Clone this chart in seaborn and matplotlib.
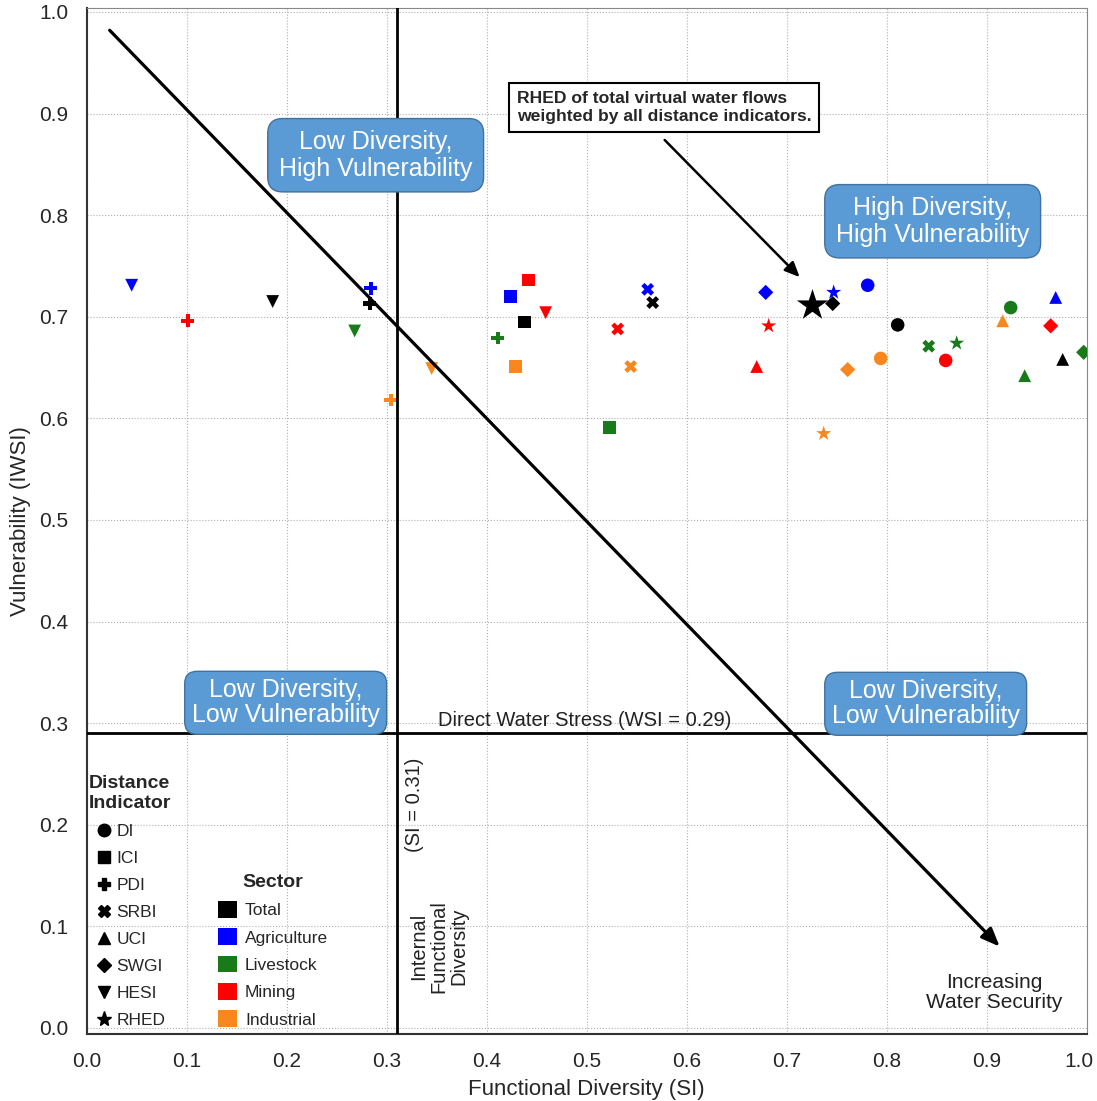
import numpy as np
import pandas as pd
import seaborn as sns
import matplotlib.pyplot as plt
import matplotlib.transforms as mtransforms
from matplotlib.lines import Line2D
from matplotlib.patches import Patch

# distance indicators and sectors
indicators = ['DI', 'ICI', 'PDI', 'SRBI', 'UCI', 'SWGI', 'HESI', 'RHED']
sectors = ['Total', 'Agriculture', 'Livestock', 'Mining', 'Industrial']

# functional diversity (SI) and vulnerability (IWSI), one value per indicator
total_si = [0.811, 0.438, 0.283, 0.566, 0.976, 0.746, 0.186, 0.725]
total_wsi = [0.692, 0.695, 0.713, 0.714, 0.658, 0.713, 0.715, 0.712]
agri_si = [0.781, 0.424, 0.284, 0.561, 0.969, 0.679, 0.045, 0.747]
agri_wsi = [0.731, 0.720, 0.728, 0.727, 0.719, 0.724, 0.731, 0.724]
live_si = [0.924, 0.523, 0.411, 0.842, 0.938, 0.997, 0.268, 0.870]
live_wsi = [0.709, 0.591, 0.679, 0.671, 0.642, 0.665, 0.686, 0.674]
mining_si = [0.859, 0.442, 0.101, 0.531, 0.670, 0.964, 0.459, 0.682]
mining_wsi = [0.657, 0.736, 0.696, 0.688, 0.651, 0.691, 0.704, 0.691]
indus_si = [0.794, 0.429, 0.304, 0.544, 0.916, 0.761, 0.345, 0.737]
indus_wsi = [0.659, 0.651, 0.618, 0.651, 0.696, 0.648, 0.649, 0.585]

# reference thresholds
si_internal = 0.31
wsi_direct = 0.29

ticks = [0.0, 0.1, 0.2, 0.3, 0.4, 0.5, 0.6, 0.7, 0.8, 0.9, 1.0]

palette = {'Total': '#000000', 'Agriculture': '#0000ff', 'Livestock': '#187a18',
           'Mining': '#ff0000', 'Industrial': '#f8871e'}
marker_map = {'DI': 'o', 'ICI': 's', 'PDI': 'P', 'SRBI': 'X', 'UCI': '^',
              'SWGI': 'D', 'HESI': 'v', 'RHED': '*'}
size_map = {'DI': 95, 'ICI': 80, 'PDI': 85, 'SRBI': 85, 'UCI': 85,
            'SWGI': 60, 'HESI': 85, 'RHED': 130}
legend_ms = {'DI': 9, 'ICI': 8.5, 'PDI': 9, 'SRBI': 9, 'UCI': 8.5,
             'SWGI': 7.5, 'HESI': 8.5, 'RHED': 11}

rows = []
for sec, si, wsi in zip(sectors,
                        [total_si, agri_si, live_si, mining_si, indus_si],
                        [total_wsi, agri_wsi, live_wsi, mining_wsi, indus_wsi]):
    for ind, a, b in zip(indicators, si, wsi):
        rows.append({'sector': sec, 'indicator': ind, 'SI': a, 'IWSI': b})
df = pd.DataFrame(rows)

big = (df['sector'] == 'Total') & (df['indicator'] == 'RHED')

sns.set_style('whitegrid', {'grid.linestyle': ':', 'grid.color': '#b0b0b0',
                            'axes.edgecolor': '#333333'})
plt.rcParams['font.family'] = ['Liberation Sans', 'DejaVu Sans']

fig = plt.figure(figsize=(10.97, 11.01), dpi=100)
ax = fig.add_axes([0.079, 0.0609, 0.9116, 0.9319])

sns.scatterplot(data=df[~big], x='SI', y='IWSI', hue='sector', style='indicator',
                size='indicator', sizes=size_map, palette=palette, markers=marker_map,
                linewidth=0, legend=False, ax=ax, zorder=3)
sns.scatterplot(data=df[big], x='SI', y='IWSI', color='black', marker='*',
                s=560, linewidth=0, legend=False, ax=ax, zorder=3)

# thresholds
ax.axvline(si_internal, color='black', lw=2, zorder=4)
ax.axhline(wsi_direct, color='black', lw=2, zorder=4)

# diagonal arrow
ax.annotate('', xy=(0.913, 0.080), xytext=(0.023, 0.982),
            arrowprops=dict(arrowstyle='-|>,head_length=1.1,head_width=0.45',
                            color='black', lw=2.3, shrinkA=0, shrinkB=0), zorder=4)

# RHED callout
ax.annotate('', xy=(0.713, 0.739), xytext=(0.578, 0.874),
            arrowprops=dict(arrowstyle='-|>,head_length=0.9,head_width=0.4',
                            color='black', lw=1.8, shrinkA=0, shrinkB=0), zorder=4)
ax.text(0.43, 0.906, 'RHED of total virtual water flows\nweighted by all distance indicators.',
        ha='left', va='center', fontsize=12.6, fontweight='bold', zorder=6,
        bbox=dict(boxstyle='square,pad=0.45', facecolor='white', edgecolor='black', lw=1.5))

box = dict(facecolor='#5b9bd5', edgecolor='#41719c', lw=1)
ax.text(0.289, 0.859, 'Low Diversity,\nHigh Vulnerability', ha='center', va='center',
        color='white', fontsize=18, zorder=6, linespacing=1.15,
        bbox=dict(boxstyle='round,pad=0.45,rounding_size=0.6', **box))
ax.text(0.846, 0.794, 'High Diversity,\nHigh Vulnerability', ha='center', va='center',
        color='white', fontsize=18, zorder=6, linespacing=1.15,
        bbox=dict(boxstyle='round,pad=0.45,rounding_size=0.6', **box))
ax.text(0.199, 0.320, 'Low Diversity,\nLow Vulnerability', ha='center', va='center',
        color='white', fontsize=18, zorder=6, linespacing=1.05,
        bbox=dict(boxstyle='round,pad=0.28,rounding_size=0.5', **box))
ax.text(0.839, 0.319, 'Low Diversity,\nLow Vulnerability', ha='center', va='center',
        color='white', fontsize=18, zorder=6, linespacing=1.05,
        bbox=dict(boxstyle='round,pad=0.28,rounding_size=0.5', **box))

ax.text(0.498, 0.293, 'Direct Water Stress (WSI = 0.29)', ha='center', va='bottom',
        fontsize=14.5, color='#222222', zorder=5)
ax.text(0.328, 0.220, '(SI = 0.31)', ha='center', va='center', rotation=90,
        fontsize=14.5, color='#222222', zorder=5)
ax.text(0.352, 0.080, 'Internal\nFunctional\nDiversity', ha='center', va='center',
        rotation=90, fontsize=14.5, color='#222222', linespacing=1.1, zorder=5)
ax.text(0.908, 0.035, 'Increasing\nWater Security', ha='center', va='center',
        fontsize=15, color='#222222', linespacing=1.1, zorder=5)

# legends
ind_handles = [Line2D([], [], marker=marker_map[i], color='black', linestyle='',
                      markersize=legend_ms[i]) for i in indicators]
leg1 = ax.legend(ind_handles, indicators, title='Distance\nIndicator', loc='lower left',
                 bbox_to_anchor=(-0.008, -0.004), frameon=False, fontsize=12.5,
                 title_fontproperties={'weight': 'bold', 'size': 14},
                 handletextpad=0.2, labelspacing=0.68, handlelength=1.0, borderaxespad=0.2)
ax.add_artist(leg1)
sec_handles = [Patch(facecolor=palette[s], edgecolor='none') for s in sectors]
ax.legend(sec_handles, sectors, title='Sector', loc='lower left',
          bbox_to_anchor=(0.121, -0.004), frameon=False, fontsize=12.5,
          title_fontproperties={'weight': 'bold', 'size': 14},
          handletextpad=0.45, labelspacing=0.58, handlelength=1.1, handleheight=1.1,
          borderaxespad=0.2)

ax.set_xlim(0, 1.0)
ax.set_ylim(-0.006, 1.004)
ax.set_xticks(ticks)
ax.set_yticks(ticks)
ax.set_xticklabels([f'{t:.1f}' for t in ticks], fontsize=15)
ax.set_yticklabels([f'{t:.1f}' for t in ticks], fontsize=15)
ax.tick_params(axis='both', length=5, color='#aaaaaa', pad=8)
ax.set_xlabel('Functional Diversity (SI)', fontsize=16, labelpad=6)
ax.set_ylabel('Vulnerability (IWSI)', fontsize=16, labelpad=6)
for side in ['top', 'right']:
    ax.spines[side].set_color('#888888')
for side in ['left', 'bottom']:
    ax.spines[side].set_color('#333333')
    ax.spines[side].set_linewidth(1.5)

# keep the last x tick label inside the figure
last = ax.get_xticklabels()[-1]
last.set_transform(last.get_transform() +
                   mtransforms.ScaledTranslation(-8 / 100, 0, fig.dpi_scale_trans))

fig.savefig('out.png', dpi=100)
